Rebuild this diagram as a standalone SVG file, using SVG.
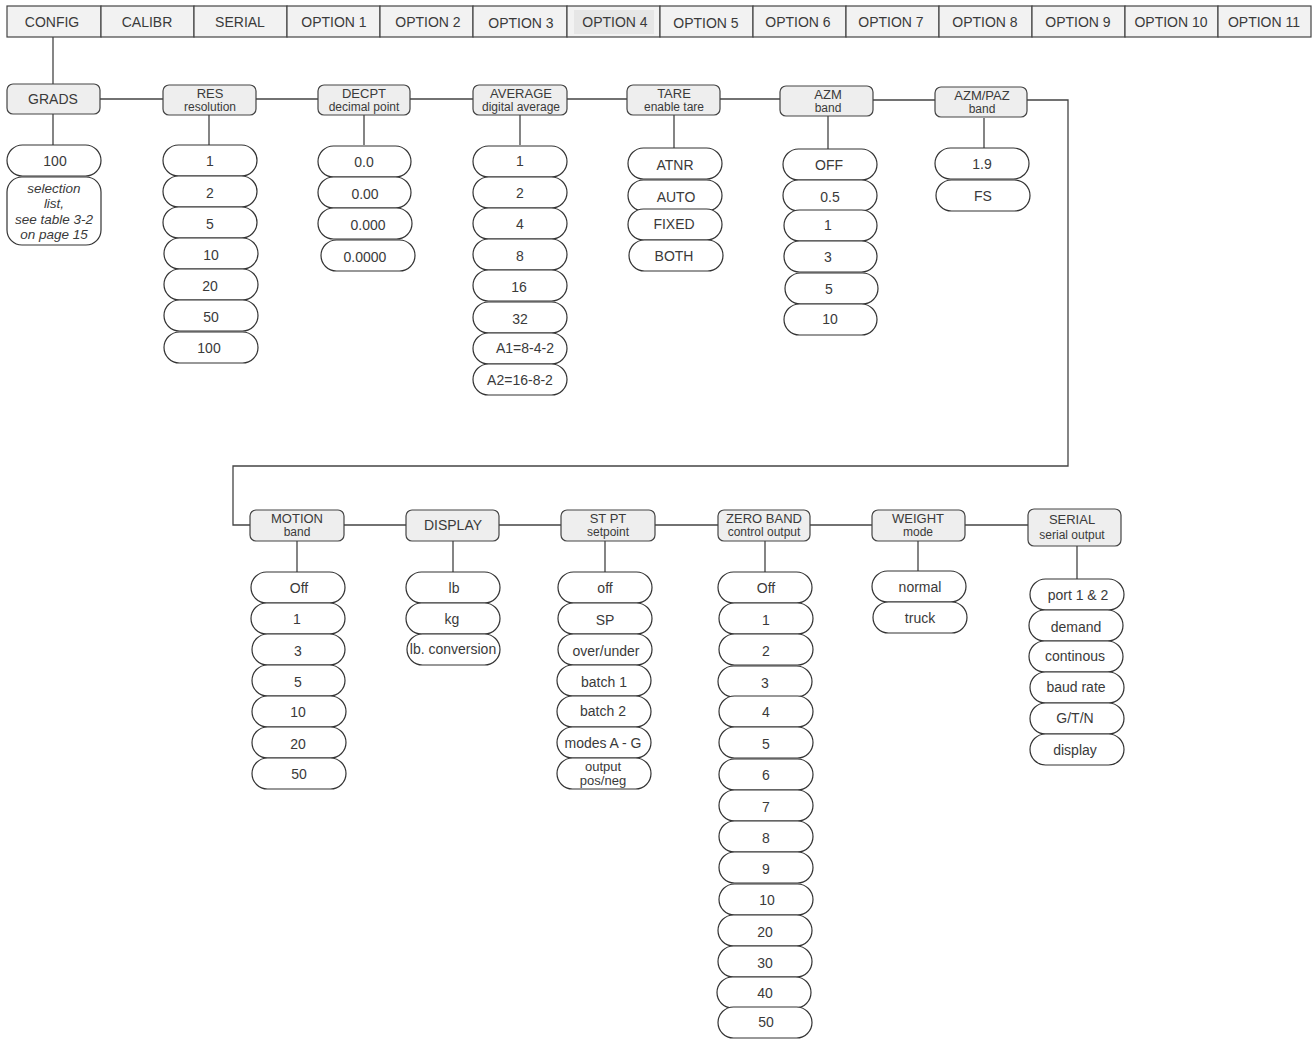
<svg xmlns="http://www.w3.org/2000/svg" width="1315" height="1040" viewBox="0 0 1315 1040">
<style>
text{font-family:"Liberation Sans",Arial,sans-serif;fill:#3a3a3a;text-anchor:middle}
.tab{fill:#f2f2f2;stroke:#444;stroke-width:1.2}
.t{font-size:14px}
.hd{fill:#eeeeee;stroke:#444;stroke-width:1.2}
.h0{font-size:14px}
.h1{font-size:13px}
.h2{font-size:12px}
.pill{fill:#fff;stroke:#333;stroke-width:1.2}
.p{font-size:14px}
.it{font-size:13.5px;font-style:italic}
.con{fill:none;stroke:#444;stroke-width:1.3}
</style>
<rect width="1315" height="1040" fill="#fff"/>
<g id="menu">
<rect class="tab" x="7" y="6" width="94" height="31"/><text class="t" x="52" y="27">CONFIG</text>
<rect class="tab" x="101" y="6" width="93" height="31"/><text class="t" x="147" y="27">CALIBR</text>
<rect class="tab" x="194" y="6" width="93" height="31"/><text class="t" x="240" y="27">SERIAL</text>
<rect class="tab" x="287" y="6" width="93" height="31"/><text class="t" x="334" y="27">OPTION 1</text>
<rect class="tab" x="380" y="6" width="93" height="31"/><text class="t" x="428" y="27">OPTION 2</text>
<rect class="tab" x="473" y="6" width="94" height="31"/><text class="t" x="521" y="28">OPTION 3</text>
<rect class="tab" x="567" y="6" width="93" height="31"/><rect x="574" y="10" width="80" height="24" fill="#e6e6e6"/><text class="t" x="615" y="27">OPTION 4</text>
<rect class="tab" x="660" y="6" width="93" height="31"/><text class="t" x="706" y="28">OPTION 5</text>
<rect class="tab" x="753" y="6" width="93" height="31"/><text class="t" x="798" y="27">OPTION 6</text>
<rect class="tab" x="846" y="6" width="93" height="31"/><text class="t" x="891" y="27">OPTION 7</text>
<rect class="tab" x="939" y="6" width="93" height="31"/><text class="t" x="985" y="27">OPTION 8</text>
<rect class="tab" x="1032" y="6" width="93" height="31"/><text class="t" x="1078" y="27">OPTION 9</text>
<rect class="tab" x="1125" y="6" width="93" height="31"/><text class="t" x="1171" y="27">OPTION 10</text>
<rect class="tab" x="1218" y="6" width="93" height="31"/><text class="t" x="1264" y="27">OPTION 11</text>
</g>
<g id="connectors">
<path class="con" d="M53,37 V84"/>
<path class="con" d="M100,99 H163 M256,99 H318 M410,99 H473 M567,99 H627 M720,99 H780 M873,100 H935"/>
<path class="con" d="M1027,100 H1068 V466 H233 V525 H250"/>
<path class="con" d="M53,114 V145 M209,115 V145 M364,115 V145 M520,115 V145 M674,115 V148 M828,116 V149 M984,118 V148"/>
<path class="con" d="M344,525 H406 M499,525 H561 M655,525 H718 M810,525 H872 M965,525 H1028"/>
<path class="con" d="M297,541 V572 M453,541 V572 M605,541 V572 M765,541 V572 M918,541 V571 M1077,546 V579"/>
</g>
<g id="grads">
<rect class="hd" x="7" y="84" width="93" height="30" rx="6"/><text class="h0" x="53" y="104">GRADS</text>
<rect class="pill" x="7" y="145" width="94" height="31" rx="15.5"/><text class="p" x="55" y="166">100</text>
<rect class="pill" x="7" y="177" width="94" height="68" rx="15"/>
<text class="it" x="54" y="193">selection</text><text class="it" x="54" y="208">list,</text><text class="it" x="54" y="224">see table 3-2</text><text class="it" x="54" y="239">on page 15</text>
</g>
<g id="res">
<rect class="hd" x="163" y="85" width="93" height="30" rx="6"/><text class="h1" x="210" y="97.5">RES</text><text class="h2" x="210" y="111">resolution</text>
<rect class="pill" x="163" y="145" width="94" height="31" rx="15.5"/><text class="p" x="210" y="166">1</text>
<rect class="pill" x="163" y="176" width="94" height="31" rx="15.5"/><text class="p" x="210" y="198">2</text>
<rect class="pill" x="163" y="207" width="94" height="31" rx="15.5"/><text class="p" x="210" y="229">5</text>
<rect class="pill" x="164" y="238" width="94" height="31" rx="15.5"/><text class="p" x="211" y="260">10</text>
<rect class="pill" x="164" y="269" width="94" height="31" rx="15.5"/><text class="p" x="210" y="291">20</text>
<rect class="pill" x="164" y="300" width="94" height="31" rx="15.5"/><text class="p" x="211" y="322">50</text>
<rect class="pill" x="164" y="332" width="94" height="31" rx="15.5"/><text class="p" x="209" y="353">100</text>
</g>
<g id="decpt">
<rect class="hd" x="318" y="85" width="92" height="30" rx="6"/><text class="h1" x="364" y="97.5">DECPT</text><text class="h2" x="364" y="111">decimal point</text>
<rect class="pill" x="318" y="146" width="93" height="31" rx="15.5"/><text class="p" x="364" y="167">0.0</text>
<rect class="pill" x="318" y="177" width="93" height="31" rx="15.5"/><text class="p" x="365" y="199">0.00</text>
<rect class="pill" x="318" y="208" width="94" height="31" rx="15.5"/><text class="p" x="368" y="230">0.000</text>
<rect class="pill" x="321" y="240" width="94" height="31" rx="15.5"/><text class="p" x="365" y="262">0.0000</text>
</g>
<g id="average">
<rect class="hd" x="473" y="85" width="94" height="30" rx="6"/><text class="h1" x="521" y="97.5">AVERAGE</text><text class="h2" x="521" y="111">digital average</text>
<rect class="pill" x="473" y="146" width="94" height="31" rx="15.5"/><text class="p" x="520" y="166">1</text>
<rect class="pill" x="473" y="177" width="94" height="31" rx="15.5"/><text class="p" x="520" y="198">2</text>
<rect class="pill" x="473" y="208" width="94" height="31" rx="15.5"/><text class="p" x="520" y="229">4</text>
<rect class="pill" x="473" y="239" width="94" height="31" rx="15.5"/><text class="p" x="520" y="261">8</text>
<rect class="pill" x="473" y="270" width="94" height="31" rx="15.5"/><text class="p" x="519" y="292">16</text>
<rect class="pill" x="473" y="302" width="94" height="31" rx="15.5"/><text class="p" x="520" y="324">32</text>
<rect class="pill" x="473" y="333" width="94" height="31" rx="15.5"/><text class="p" x="525" y="353">A1=8-4-2</text>
<rect class="pill" x="473" y="364" width="94" height="31" rx="15.5"/><text class="p" x="520" y="385">A2=16-8-2</text>
</g>
<g id="tare">
<rect class="hd" x="627" y="85" width="93" height="30" rx="6"/><text class="h1" x="674" y="97.5">TARE</text><text class="h2" x="674" y="111">enable tare</text>
<rect class="pill" x="628" y="148" width="94" height="31" rx="15.5"/><text class="p" x="675" y="170">ATNR</text>
<rect class="pill" x="628" y="180" width="94" height="31" rx="15.5"/><text class="p" x="676" y="202">AUTO</text>
<rect class="pill" x="628" y="209" width="94" height="31" rx="15.5"/><text class="p" x="674" y="229">FIXED</text>
<rect class="pill" x="629" y="240" width="94" height="31" rx="15.5"/><text class="p" x="674" y="261">BOTH</text>
</g>
<g id="azm">
<rect class="hd" x="780" y="86" width="93" height="30" rx="6"/><text class="h1" x="828" y="98.5">AZM</text><text class="h2" x="828" y="112">band</text>
<rect class="pill" x="783" y="149" width="94" height="31" rx="15.5"/><text class="p" x="829" y="170">OFF</text>
<rect class="pill" x="783" y="180" width="94" height="31" rx="15.5"/><text class="p" x="830" y="202">0.5</text>
<rect class="pill" x="784" y="210" width="93" height="31" rx="15.5"/><text class="p" x="828" y="230">1</text>
<rect class="pill" x="784" y="241" width="93" height="31" rx="15.5"/><text class="p" x="828" y="262">3</text>
<rect class="pill" x="785" y="273" width="93" height="31" rx="15.5"/><text class="p" x="829" y="294">5</text>
<rect class="pill" x="784" y="304" width="93" height="31" rx="15.5"/><text class="p" x="830" y="324">10</text>
</g>
<g id="azmpaz">
<rect class="hd" x="935" y="87" width="92" height="30" rx="6"/><text class="h1" x="982" y="99.5">AZM/PAZ</text><text class="h2" x="982" y="113">band</text>
<rect class="pill" x="935" y="148" width="94" height="31" rx="15.5"/><text class="p" x="982" y="169">1.9</text>
<rect class="pill" x="936" y="180" width="94" height="31" rx="15.5"/><text class="p" x="983" y="201">FS</text>
</g>
<g id="motion">
<rect class="hd" x="250" y="510" width="94" height="31" rx="6"/><text class="h1" x="297" y="522.5">MOTION</text><text class="h2" x="297" y="536">band</text>
<rect class="pill" x="251" y="572" width="94" height="31" rx="15.5"/><text class="p" x="299" y="593">Off</text>
<rect class="pill" x="251" y="603" width="94" height="31" rx="15.5"/><text class="p" x="297" y="624">1</text>
<rect class="pill" x="252" y="634" width="93" height="31" rx="15.5"/><text class="p" x="298" y="656">3</text>
<rect class="pill" x="252" y="665" width="93" height="31" rx="15.5"/><text class="p" x="298" y="687">5</text>
<rect class="pill" x="252" y="696" width="94" height="31" rx="15.5"/><text class="p" x="298" y="717">10</text>
<rect class="pill" x="252" y="727" width="94" height="31" rx="15.5"/><text class="p" x="298" y="749">20</text>
<rect class="pill" x="252" y="758" width="94" height="31" rx="15.5"/><text class="p" x="299" y="779">50</text>
</g>
<g id="display">
<rect class="hd" x="406" y="510" width="93" height="31" rx="6"/><text class="h0" x="453" y="530">DISPLAY</text>
<rect class="pill" x="406" y="572" width="94" height="31" rx="15.5"/><text class="p" x="454" y="593">lb</text>
<rect class="pill" x="406" y="603" width="94" height="31" rx="15.5"/><text class="p" x="452" y="624">kg</text>
<rect class="pill" x="407" y="634" width="93" height="31" rx="15.5"/><text class="p" x="453" y="654">lb. conversion</text>
</g>
<g id="stpt">
<rect class="hd" x="561" y="510" width="94" height="31" rx="6"/><text class="h1" x="608" y="522.5">ST PT</text><text class="h2" x="608" y="536">setpoint</text>
<rect class="pill" x="558" y="572" width="94" height="31" rx="15.5"/><text class="p" x="605" y="593">off</text>
<rect class="pill" x="558" y="603" width="94" height="31" rx="15.5"/><text class="p" x="605" y="625">SP</text>
<rect class="pill" x="558" y="634" width="94" height="31" rx="15.5"/><text class="p" x="606" y="656">over/under</text>
<rect class="pill" x="557" y="665" width="94" height="31" rx="15.5"/><text class="p" x="604" y="687">batch 1</text>
<rect class="pill" x="557" y="696" width="94" height="31" rx="15.5"/><text class="p" x="603" y="716">batch 2</text>
<rect class="pill" x="557" y="727" width="94" height="31" rx="15.5"/><text class="p" x="603" y="748">modes A - G</text>
<rect class="pill" x="557" y="758" width="94" height="31" rx="15.5"/><text class="h1" x="603" y="771">output</text><text class="h1" x="603" y="785">pos/neg</text>
</g>
<g id="zeroband">
<rect class="hd" x="718" y="510" width="92" height="31" rx="6"/><text class="h1" x="764" y="522.5">ZERO BAND</text><text class="h2" x="764" y="536">control output</text>
<rect class="pill" x="718" y="572" width="94" height="31" rx="15.5"/><text class="p" x="766" y="593">Off</text>
<rect class="pill" x="719" y="603" width="94" height="31" rx="15.5"/><text class="p" x="766" y="625">1</text>
<rect class="pill" x="719" y="634" width="94" height="31" rx="15.5"/><text class="p" x="766" y="656">2</text>
<rect class="pill" x="718" y="666" width="94" height="31" rx="15.5"/><text class="p" x="765" y="688">3</text>
<rect class="pill" x="719" y="696" width="94" height="31" rx="15.5"/><text class="p" x="766" y="717">4</text>
<rect class="pill" x="719" y="727" width="94" height="31" rx="15.5"/><text class="p" x="766" y="749">5</text>
<rect class="pill" x="719" y="759" width="94" height="31" rx="15.5"/><text class="p" x="766" y="780">6</text>
<rect class="pill" x="719" y="790" width="94" height="31" rx="15.5"/><text class="p" x="766" y="812">7</text>
<rect class="pill" x="719" y="821" width="94" height="31" rx="15.5"/><text class="p" x="766" y="843">8</text>
<rect class="pill" x="719" y="852" width="94" height="31" rx="15.5"/><text class="p" x="766" y="874">9</text>
<rect class="pill" x="719" y="884" width="94" height="31" rx="15.5"/><text class="p" x="767" y="905">10</text>
<rect class="pill" x="718" y="915" width="94" height="31" rx="15.5"/><text class="p" x="765" y="937">20</text>
<rect class="pill" x="718" y="946" width="94" height="31" rx="15.5"/><text class="p" x="765" y="968">30</text>
<rect class="pill" x="717" y="977" width="94" height="31" rx="15.5"/><text class="p" x="765" y="998">40</text>
<rect class="pill" x="718" y="1007" width="94" height="31" rx="15.5"/><text class="p" x="766" y="1027">50</text>
</g>
<g id="weight">
<rect class="hd" x="872" y="510" width="93" height="31" rx="6"/><text class="h1" x="918" y="522.5">WEIGHT</text><text class="h2" x="918" y="536">mode</text>
<rect class="pill" x="872" y="571" width="94" height="31" rx="15.5"/><text class="p" x="920" y="592">normal</text>
<rect class="pill" x="873" y="602" width="94" height="31" rx="15.5"/><text class="p" x="920" y="623">truck</text>
</g>
<g id="serial">
<rect class="hd" x="1028" y="509" width="93" height="37" rx="6"/><text class="h1" x="1072" y="524">SERIAL</text><text class="h2" x="1072" y="539">serial output</text>
<rect class="pill" x="1030" y="579" width="94" height="31" rx="15.5"/><text class="p" x="1078" y="600">port 1 &amp; 2</text>
<rect class="pill" x="1029" y="610" width="94" height="31" rx="15.5"/><text class="p" x="1076" y="632">demand</text>
<rect class="pill" x="1029" y="641" width="94" height="31" rx="15.5"/><text class="p" x="1075" y="661">continous</text>
<rect class="pill" x="1030" y="672" width="94" height="31" rx="15.5"/><text class="p" x="1076" y="692">baud rate</text>
<rect class="pill" x="1030" y="703" width="94" height="31" rx="15.5"/><text class="p" x="1075" y="723">G/T/N</text>
<rect class="pill" x="1030" y="734" width="94" height="31" rx="15.5"/><text class="p" x="1075" y="755">display</text>
</g>
</svg>
